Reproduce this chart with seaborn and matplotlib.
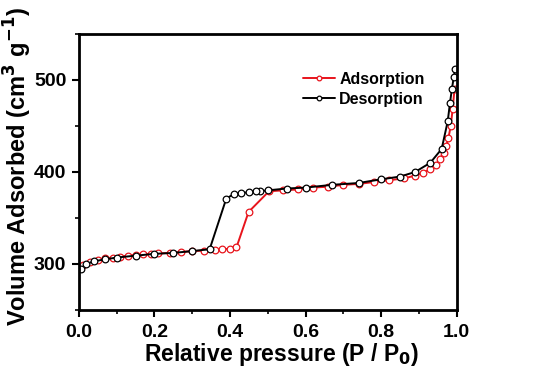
import numpy as np
import pandas as pd
import matplotlib
matplotlib.use('Agg')
import matplotlib.pyplot as plt
import seaborn as sns

ads_p = [0.005, 0.01, 0.03, 0.05, 0.07, 0.09, 0.11, 0.13, 0.15, 0.17, 0.19, 0.21, 0.24, 0.27,
         0.30, 0.33, 0.36, 0.38, 0.40, 0.417, 0.449, 0.503, 0.54, 0.58, 0.62, 0.66, 0.70, 0.74,
         0.78, 0.82, 0.86, 0.89, 0.91, 0.93, 0.945, 0.955, 0.965, 0.972, 0.978, 0.984, 0.989, 0.994]
ads_v = [297, 299, 302, 304, 306, 307, 308, 309, 310, 310.5, 311, 311.5, 312, 313,
         314, 314.5, 315, 316, 316.5, 318, 356.5, 379, 380, 381, 383, 384, 386, 387,
         389, 391, 393, 396, 399, 403, 408, 414, 421, 428, 437, 450, 468, 490]

des_p = [0.996, 0.992, 0.987, 0.982, 0.976, 0.96, 0.93, 0.89, 0.85, 0.80, 0.74, 0.67, 0.60,
         0.55, 0.50, 0.48, 0.47, 0.45, 0.43, 0.41, 0.39, 0.346, 0.30, 0.25, 0.20, 0.15, 0.10,
         0.07, 0.04, 0.02, 0.005]
des_v = [512, 503, 490, 475, 455, 425, 410, 400, 395, 392, 388, 386, 383,
         382, 380, 379, 379, 378, 377, 376, 371, 316, 314, 312, 311, 309, 307,
         305, 303, 300, 294]

sns.set_style('ticks')
plt.rcParams['font.family'] = ['Liberation Sans', 'DejaVu Sans']
plt.rcParams['font.weight'] = 'bold'
plt.rcParams['text.color'] = 'black'
plt.rcParams['axes.labelcolor'] = 'black'
plt.rcParams['xtick.color'] = 'black'
plt.rcParams['ytick.color'] = 'black'
plt.rcParams['axes.edgecolor'] = 'black'

fig = plt.figure(figsize=(5.33, 3.73), dpi=100)
ax = fig.add_axes([0.148, 0.169, 0.709, 0.740])

ads = pd.DataFrame({'p': ads_p, 'v': ads_v})
des = pd.DataFrame({'p': des_p, 'v': des_v})
sns.lineplot(data=ads, x='p', y='v', sort=False, ax=ax, color='#e8141c', lw=1.4,
             marker='o', markersize=4.8, markerfacecolor='white', markeredgecolor='#e8141c',
             markeredgewidth=0.9, label='Adsorption')
sns.lineplot(data=des, x='p', y='v', sort=False, ax=ax, color='black', lw=1.4,
             marker='o', markersize=4.8, markerfacecolor='white', markeredgecolor='black',
             markeredgewidth=0.9, label='Desorption')

ax.set_xlim(0, 1.0)
ax.set_ylim(250, 550)
ax.set_xticks(np.arange(0, 1.01, 0.2))
ax.set_xticks(np.arange(0.1, 1.0, 0.2), minor=True)
ax.set_yticks([300, 400, 500])
ax.set_yticks([250, 350, 450, 550], minor=True)
ax.set_xticklabels(['0.0', '0.2', '0.4', '0.6', '0.8', '1.0'])
ax.tick_params(axis='x', which='major', direction='out', length=5, width=1.5,
               labelsize=14, pad=5)
ax.tick_params(axis='y', which='major', direction='out', length=5, width=1.5,
               labelsize=14, pad=4)
ax.tick_params(axis='both', which='minor', direction='out', length=3, width=1.2)
for lab in ax.get_xticklabels() + ax.get_yticklabels():
    lab.set_fontweight('bold')
for s in ax.spines.values():
    s.set_linewidth(2)
    s.set_visible(True)

ax.set_xlabel('Relative pressure (P / P$_0$)', fontsize=16.5, fontweight='bold')
ax.set_ylabel('Volume Adsorbed (cm$^3$ g$^{-1}$)', fontsize=17, fontweight='bold')
ax.xaxis.set_label_coords(0.537, -0.112)
ax.yaxis.set_label_coords(-0.118, 0.52)

leg = ax.legend(loc='upper left', bbox_to_anchor=(0.575, 0.885), frameon=False, fontsize=11.5,
                handlelength=2.0, handletextpad=0.3, borderaxespad=0, labelspacing=0.3,
                markerscale=0.7)
for t in leg.get_texts():
    t.set_fontweight('bold')

fig.savefig('out.png', dpi=100)
